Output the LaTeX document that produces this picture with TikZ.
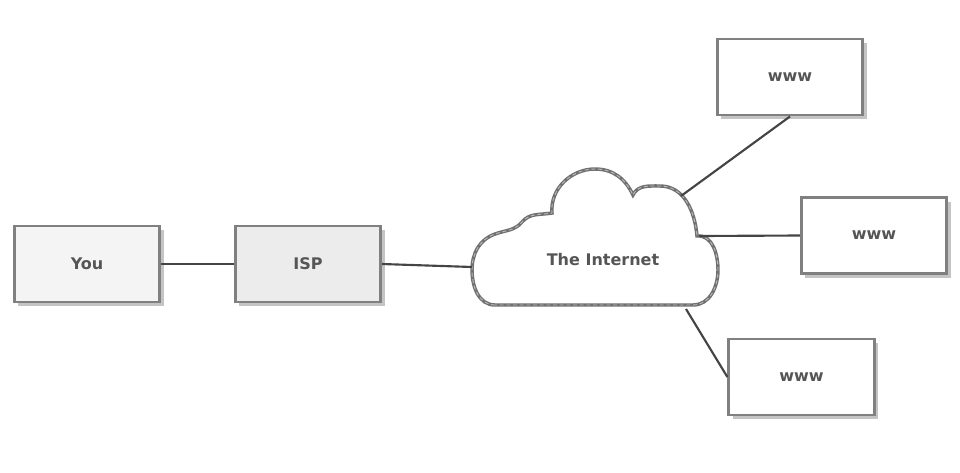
\documentclass[tikz,border=0pt]{standalone}
\usepackage{fontspec}
\setmainfont{DejaVu Sans}
\usetikzlibrary{shadows}
\definecolor{boxborder}{HTML}{808080}
\definecolor{cloudborder}{HTML}{707070}
\definecolor{linec}{HTML}{444444}
\definecolor{txt}{HTML}{555555}
\definecolor{youfill}{HTML}{F4F4F4}
\definecolor{ispfill}{HTML}{ECECEC}
\definecolor{shadowc}{HTML}{C4C4C4}
\tikzset{
  lbl/.style={font=\bfseries\fontsize{12}{14}\selectfont, text=txt},
  box/.style={draw=boxborder, line width=2.2pt, fill=white, minimum width=109pt, minimum height=57pt,
    inner sep=0pt, lbl,
    drop shadow={shadow xshift=3pt, shadow yshift=-3pt, opacity=1, fill=shadowc}},
  conn/.style={draw=linec, line width=1.6pt},
  cloudline/.style={draw=cloudborder, line width=2.6pt, fill=white},
  cloudtex/.style={draw=gray!55, line width=0.7pt, dash pattern=on 3pt off 2pt},
}
\begin{document}
\begin{tikzpicture}[x=0.75pt,y=-0.75pt]
\useasboundingbox (0,0) rectangle (960,472);
% cloud
\def\cloudpath{(495,305) to[out=180,in=270] (472,270) to[out=90,in=200] (495,234)
  to[out=20,in=230] (522,222) to[out=50,in=190] (552,213)
  to[out=95,in=180] (595,169) to[out=0,in=115] (633,195)
  to[out=65,in=180] (660,186) to[out=0,in=95] (697,236)
  to[out=5,in=90] (718,270) to[out=270,in=0] (693,305) -- cycle}
\path[cloudline] \cloudpath;
\draw[cloudtex] \cloudpath;
\node[lbl] (inet) at (603,260) {The Internet};
\coordinate (cl) at (472,267);
\coordinate (c1) at (681,196);
\coordinate (c2) at (699,236);
\coordinate (c3) at (686,309);
% boxes
\node[box, fill=youfill] (you) at (87,264) {You};
\node[box, fill=ispfill] (isp) at (308,264) {ISP};
\node[box] (w1) at (790,77) {www};
\node[box] (w2) at (874,235.5) {www};
\node[box] (w3) at (801.5,377) {www};
% connectors
\draw[conn] (you.east) -- (isp.west);
\draw[conn] (isp.east) -- (cl);
\draw[conn] (c1) -- (w1.south);
\draw[conn] (c2) -- (w2.west);
\draw[conn] (c3) -- (w3.west);
\end{tikzpicture}
\end{document}
